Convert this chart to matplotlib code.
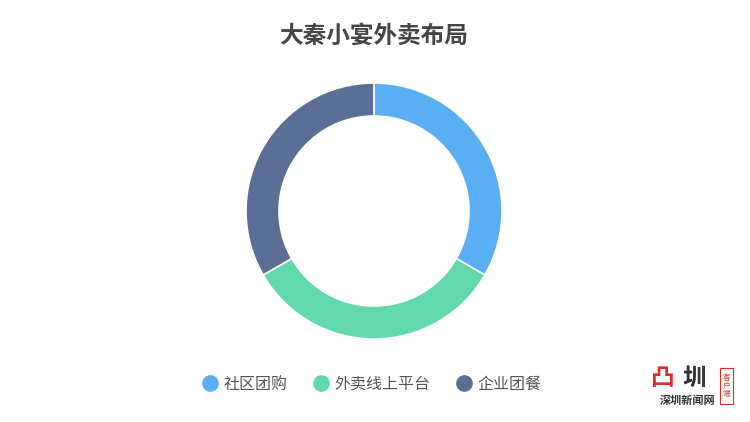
import matplotlib
matplotlib.use("Agg")
import matplotlib.pyplot as plt
from matplotlib.lines import Line2D
from matplotlib.patches import Rectangle

plt.rcParams['font.family'] = ['Noto Sans CJK SC', 'DejaVu Sans']

title = "大秦小宴外卖布局"
categories = ["社区团购", "外卖线上平台", "企业团餐"]
values = [1, 1, 1]
colors = ["#5AAEF3", "#62D9AD", "#5B6E96"]

W, H = 750, 422
fig = plt.figure(figsize=(W / 100, H / 100), dpi=100)
fig.patch.set_facecolor("white")

cx, cy, R, r_in = 374, 211, 128, 95
ax = fig.add_axes([(cx - R) / W, (H - cy - R) / H, 2 * R / W, 2 * R / H])
ax.pie(values, colors=colors, startangle=90, counterclock=False, radius=1,
       wedgeprops=dict(width=(R - r_in) / R, edgecolor="white", linewidth=1.2))
ax.set_xlim(-1, 1)
ax.set_ylim(-1, 1)
ax.set_aspect("equal")
ax.axis("off")

fig.text(cx / W, 1 - 36 / H, title, ha="center", va="center",
         fontsize=17, fontweight="bold", color="#464646")

handles = [Line2D([0], [0], marker="o", linestyle="none", markersize=11,
                  markerfacecolor=c, markeredgecolor=c) for c in colors]
leg = fig.legend(handles, categories, loc="center", bbox_to_anchor=(369.5 / W, 1 - 384 / H),
                 ncol=3, frameon=False, fontsize=11.5, handletextpad=0.1,
                 columnspacing=1.35, handlelength=1.5)
for t in leg.get_texts():
    t.set_color("#555555")

# watermark logo (approximate)
fig.text(663 / W, 1 - 378 / H, "凸", ha="center", va="center", fontsize=17,
         fontweight="bold", color="#D8302A")
fig.text(694 / W, 1 - 378 / H, "圳", ha="center", va="center", fontsize=17,
         fontweight="bold", color="#333333")
fig.text(688 / W, 1 - 400 / H, "深圳新闻网", ha="center", va="center", fontsize=8,
         fontweight="bold", color="#333333")
fig.patches.append(Rectangle((720 / W, 1 - 404 / H), 13 / W, 36 / H,
                             transform=fig.transFigure, facecolor="white",
                             edgecolor="#D8302A", linewidth=0.8))
fig.text(726.5 / W, 1 - 386 / H, "客\n户\n端", ha="center", va="center", fontsize=5.5,
         color="#D8302A", linespacing=1.0)

fig.savefig("out.png", dpi=100, facecolor="white")
